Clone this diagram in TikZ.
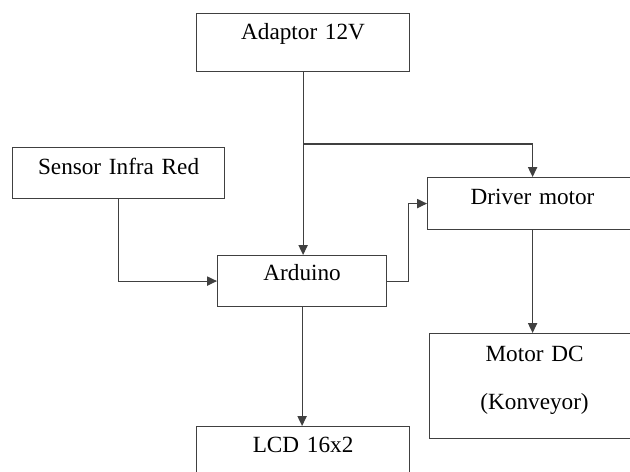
\documentclass[tikz,border=0pt]{standalone}
\usepackage{fontspec}
\setmainfont{Liberation Serif}
\usepackage{tikz}
\usetikzlibrary{arrows.meta, positioning}

\begin{document}
\begin{tikzpicture}[x=0.025cm, y=-0.025cm, line width=0.8pt, draw=black!75,
                    >={Triangle[length=7pt,width=6.5pt]},
                    every node/.style={font=\fontsize{16.5}{19.8}\selectfont}]
  \tikzstyle{block}=[draw=black!75, rectangle, inner sep=0pt, align=center, anchor=north west]

  \useasboundingbox (0,0) rectangle (630,472);
  \clip (0,0) rectangle (630,472);

  \node[block, text width=5.325cm, text height=0.65cm, text depth=0.8cm]   (adaptor) at (196,13)  {Adaptor 12V};
  \node[block, text width=5.3cm, text height=0.675cm, text depth=0.6cm]    (sensor)  at (12,147)  {Sensor Infra Red};
  \node[block, text width=4.225cm, text height=0.625cm, text depth=0.65cm] (arduino) at (217,255) {Arduino};
  \node[block, text width=5.25cm, text height=0.675cm, text depth=0.625cm] (driver)  at (427,177) {Driver motor};
  \node[block, text width=5.25cm, text height=0.7cm, text depth=1.925cm]   (motor)   at (429,333) {Motor DC\\[14.3pt](Konveyor)};
  \node[block, text width=5.325cm, text height=0.65cm, text depth=0.8cm]   (lcd)     at (196,426) {LCD 16x2};

  \coordinate (split) at (adaptor.south |- 0,144);

  \draw[->] (adaptor.south) -- (adaptor.south |- arduino.north);
  \draw[->] (split) -| (driver.north);
  \draw[->] (sensor.south) |- (arduino.west);
  \draw[->] (arduino.east) -- ++(21,0) |- (driver.west);
  \draw[->] (driver.south) -- (driver.south |- motor.north);
  \draw[->] (arduino.south) -- (arduino.south |- lcd.north);
\end{tikzpicture}
\end{document}
